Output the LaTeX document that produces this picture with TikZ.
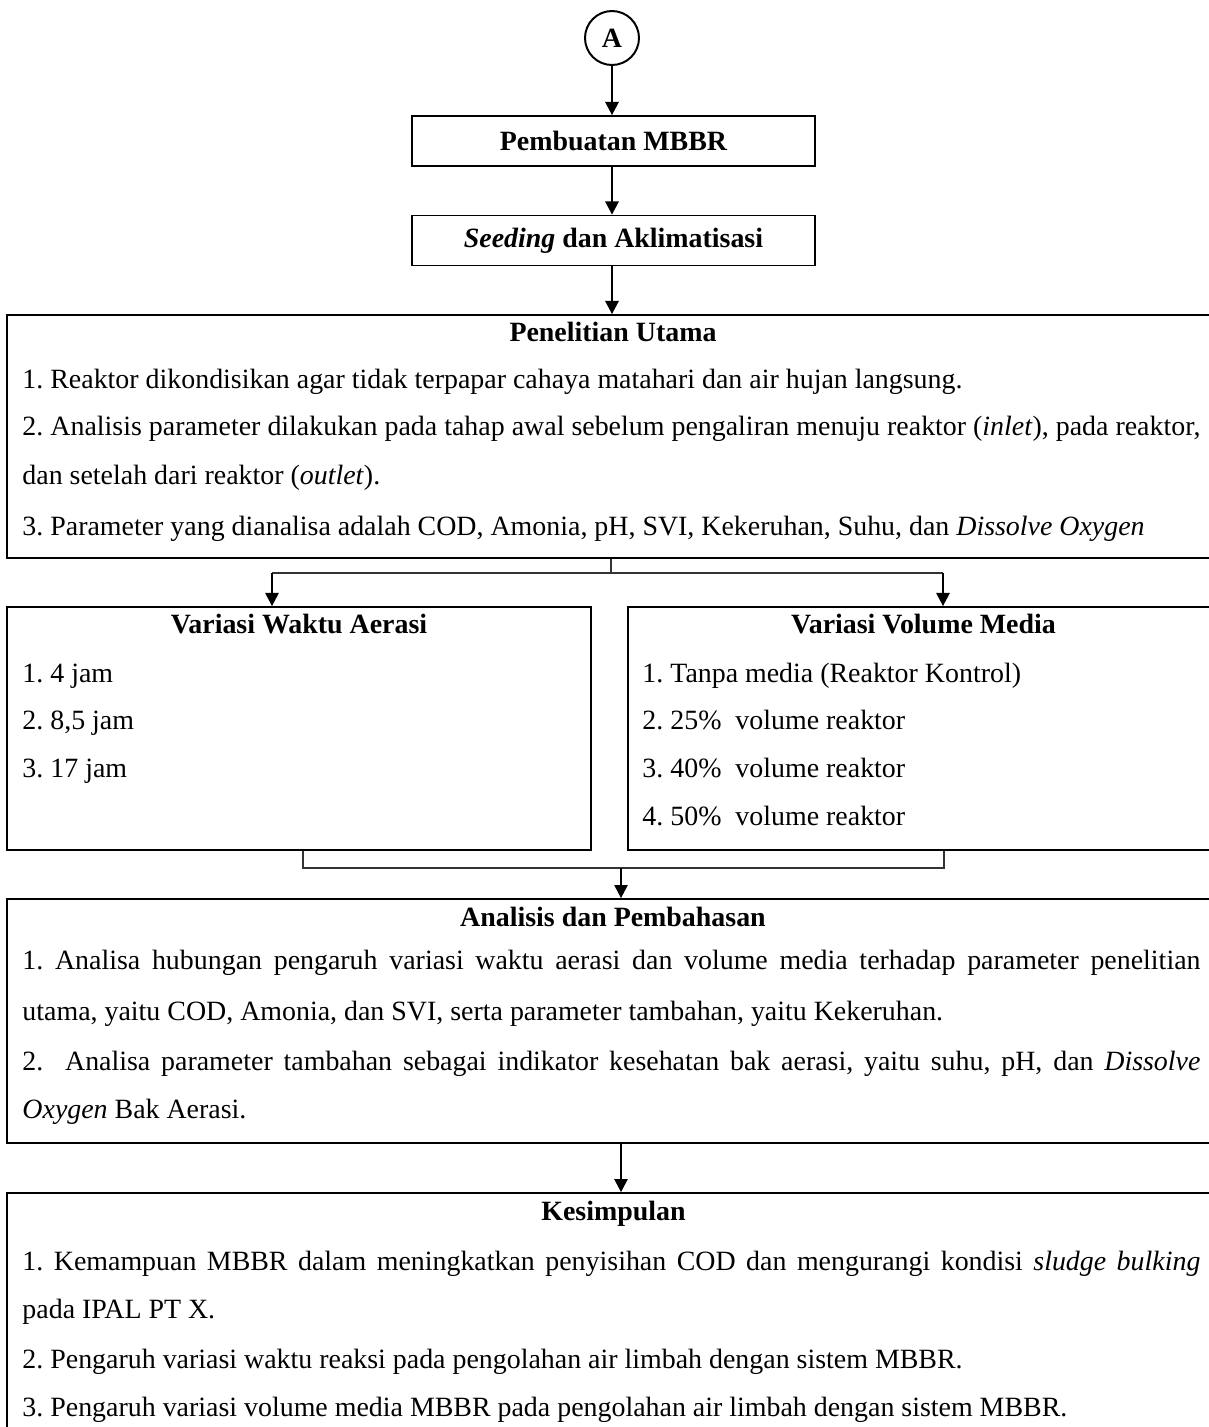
\documentclass[tikz,border=0pt]{standalone}
\usepackage{fontspec}
\setmainfont{Liberation Serif}
\usetikzlibrary{arrows.meta,fit,calc}
\newlength\pxu
\setlength\pxu{0.43pt}
\frenchspacing
\tikzset{
  boxline/.style={draw=black, line width=0.85pt, inner sep=0pt},
  cbox/.style={boxline, rectangle, minimum width=403\pxu, minimum height=50\pxu, font=\fontsize{12}{14}\selectfont\bfseries},
  fitbox/.style={boxline, rectangle},
  arr/.style={draw=black, line width=0.55pt, -{Triangle[length=5.6pt,width=5.8pt]}},
  conn/.style={draw=black!80, line width=0.45pt},
  connarr/.style={conn, -{Triangle[length=5.6pt,width=5.8pt]}, draw=black},
  txt/.style={inner sep=0pt, anchor=base west, font=\fontsize{12}{14}\selectfont},
  ttl/.style={inner sep=0pt, anchor=base, font=\fontsize{12}{14}\selectfont\bfseries},
}
\begin{document}
\frenchspacing
\begin{tikzpicture}[x=0.43pt, y=-0.43pt]
\useasboundingbox (0,0) rectangle (1209,1427);
\clip (0,0) rectangle (1209,1427);

% top chain
\node[boxline, circle, minimum size=54\pxu, font=\fontsize{12}{14}\selectfont\bfseries] (A) at (612,38) {A};
\node[cbox] (pemb) at (613.5,141) {Pembuatan MBBR};
\node[cbox] (seed) at (613.5,240.5) {\textit{Seeding} dan Aklimatisasi};

% Penelitian Utama
\node[fitbox, fit={(7,315) (1219,558)}] (pen) {};
\node[ttl] (penT) at (613,341) {Penelitian Utama};
\node[txt] (pen1) at (22,388) {1. Reaktor dikondisikan agar tidak terpapar cahaya matahari dan air hujan langsung.};
\node[txt] (pen2) at (22,435) {\makebox[1178\pxu][s]{2. Analisis parameter dilakukan pada tahap awal sebelum pengaliran menuju reaktor (\textit{inlet}), pada reaktor,}};
\node[txt] (pen3) at (22,484) {dan setelah dari reaktor (\textit{outlet}).};
\node[txt] (pen4) at (22,535) {3. Parameter yang dianalisa adalah COD, Amonia, pH, SVI, Kekeruhan, Suhu, dan \textit{Dissolve Oxygen}};

% Variasi boxes
\node[fitbox, fit={(7,607) (591,850)}] (vw) {};
\node[ttl] (vwT) at (299,633) {Variasi Waktu Aerasi};
\node[txt] (vw1) at (22,682) {1. 4 jam};
\node[txt] (vw2) at (22,729) {2. 8,5 jam};
\node[txt] (vw3) at (22,777) {3. 17 jam};

\node[fitbox, fit={(628,607) (1219,850)}] (vv) {};
\node[ttl] (vvT) at (923.5,633) {Variasi Volume Media};
\node[txt] (vv1) at (642,682) {1. Tanpa media (Reaktor Kontrol)};
\node[txt] (vv2) at (642,729) {2. 25\%\ \ volume reaktor};
\node[txt] (vv3) at (642,777) {3. 40\%\ \ volume reaktor};
\node[txt] (vv4) at (642,825) {4. 50\%\ \ volume reaktor};

% Analisis dan Pembahasan
\node[fitbox, fit={(7,899) (1219,1143)}] (ana) {};
\node[ttl] (anaT) at (613,926) {Analisis dan Pembahasan};
\node[txt] (ana1) at (22,969) {\makebox[1178\pxu][s]{1. Analisa hubungan pengaruh variasi waktu aerasi dan volume media terhadap parameter penelitian}};
\node[txt] (ana2) at (22,1020) {utama, yaitu COD, Amonia, dan SVI, serta parameter tambahan, yaitu Kekeruhan.};
\node[txt] (ana3) at (22,1070) {\makebox[1178\pxu][s]{2.\ \ Analisa parameter tambahan sebagai indikator kesehatan bak aerasi, yaitu suhu, pH, dan \textit{Dissolve}}};
\node[txt] (ana4) at (22,1118) {\textit{Oxygen} Bak Aerasi.};

% Kesimpulan
\node[fitbox, fit={(7,1193) (1219,1470)}] (kes) {};
\node[ttl] (kesT) at (613.5,1220) {Kesimpulan};
\node[txt] (kes1) at (22,1270) {\makebox[1178\pxu][s]{1. Kemampuan MBBR dalam meningkatkan penyisihan COD dan mengurangi kondisi \textit{sludge bulking}}};
\node[txt] (kes2) at (22,1318) {pada IPAL PT X.};
\node[txt] (kes3) at (22,1368) {2. Pengaruh variasi waktu reaksi pada pengolahan air limbah dengan sistem MBBR.};
\node[txt] (kes4) at (22,1416) {3. Pengaruh variasi volume media MBBR pada pengolahan air limbah dengan sistem MBBR.};

% connector coordinates
\coordinate (split) at (611,573);
\coordinate (sl) at (272,573);
\coordinate (sr) at (943,573);
\coordinate (ml) at (303,868);
\coordinate (mr) at (944,868);
\coordinate (mm) at (621,868);
\coordinate (km) at (621,1143);

% arrows
\draw[arr] (A.south) -- (A.south |- pemb.north);
\draw[arr] (A.south |- pemb.south) -- (A.south |- seed.north);
\draw[arr] (A.south |- seed.south) -- (A.south |- pen.north);

\draw[conn] (split |- pen.south) -- (split);
\draw[conn] (sl) -- (sr);
\draw[connarr] (sl) -- (sl |- vw.north);
\draw[connarr] (sr) -- (sr |- vv.north);

\draw[conn] (ml |- vw.south) -- (ml) -- (mr) -- (mr |- vv.south);
\draw[connarr] (mm) -- (mm |- ana.north);

\draw[arr] (km |- ana.south) -- (km |- kes.north);
\end{tikzpicture}
\end{document}
